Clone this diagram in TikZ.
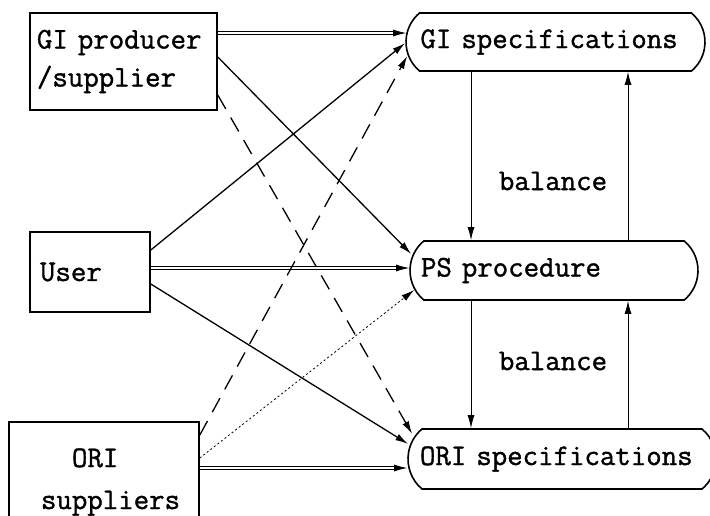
\documentclass[tikz,border=0pt]{standalone}
\usepackage{fontspec}
\setmonofont{Latin Modern Mono}[FakeBold=1.2]
\usetikzlibrary{shapes.misc, arrows.meta, calc}

\begin{document}
\begin{tikzpicture}[x=1pt, y=-1pt, >={Latex[length=13pt,width=7pt]},
            every node/.style={font=\ttfamily\fontsize{30}{38}\selectfont},
            source/.style={rectangle, draw, line width=1.6pt, inner sep=0pt},
            spec/.style={rounded rectangle, rounded rectangle arc length=100, draw, line width=1.6pt, align=left, inner xsep=0pt, inner ysep=0pt},
            link/.style={->, line width=1.3pt},
            linkdouble/.style={->, line width=0.9pt, double, double distance=2pt},
            linkdashed/.style={->, line width=1.3pt, dash pattern=on 16pt off 10pt},
            linkdotted/.style={->, line width=0.8pt, dash pattern=on 2pt off 2.5pt},
            vlink/.style={->, line width=1pt}
        ]
            \clip (0,0) rectangle (710,515);

            % GI producer
            \node[source, minimum width=187, minimum height=97, text width=173, align=left] (giprod) at (123.5,61.5) {GI producer\\/supplier};

            % User
            \node[source, minimum width=120, minimum height=80, text width=100, align=left] (user) at (90,272) {User};

            % ORI suppliers
            \node[source, minimum width=190, minimum height=120, text width=126, align=left] (orisup) at (104,482) {\hspace*{31pt}ORI\\[4pt]suppliers};

            % GI specifications
            \node[spec, minimum width=299, minimum height=58, text width=270] (gispec) at (555.5,42) {GI specifications};

            % PS procedure
            \node[spec, minimum width=288, minimum height=59, text width=266] (psproc) at (554,270.5) {PS procedure};

            % ORI specifications
            \node[spec, minimum width=308, minimum height=60, text width=284] (orispec) at (562,459) {ORI specifications};

            % Columnas de balance
            \coordinate (lcol) at (471,0);
            \coordinate (rcol) at (628,0);

            % GI producer a las especificaciones
            \draw[linkdouble] ($(giprod.east)+(0,-28.5)$) -- ($(gispec.west)+(1,-9)$);
            \draw[link] ($(giprod.east)+(0,-4.5)$) -- ($(psproc.west)+(2,-16.5)$);
            \draw[linkdashed] ($(giprod.east)+(0,33.5)$) -- ($(orispec.west)+(5,-25)$);

            % User
            \draw[link] ($(user.east)+(0,-22)$) -- ($(gispec.west)+(0,1)$);
            \draw[linkdouble] ($(user.east)+(0,-4)$) -- ($(psproc.west)+(0,-2.5)$);
            \draw[link] ($(user.east)+(0,12)$) -- ($(orispec.west)+(1,-15)$);

            % ORI suppliers
            \draw[linkdashed] ($(orisup.east)+(0,-47)$) -- ($(gispec.west)+(2,14)$);
            \draw[linkdotted] ($(orisup.east)+(0,-24)$) -- ($(psproc.west)+(5,19.5)$);
            \draw[linkdouble] ($(orisup.east)+(0,-14)$) -- ($(orispec.west)+(0,9)$);

            % Balance
            \draw[vlink] (gispec.south -| lcol) -- (psproc.north -| lcol);
            \draw[vlink] (psproc.north -| rcol) -- (gispec.south -| rcol);
            \draw[vlink] (psproc.south -| lcol) -- (orispec.north -| lcol);
            \draw[vlink] (orispec.north -| rcol) -- (psproc.south -| rcol);
            \node (bal1) at (553,181) {balance};
            \node (bal2) at (553,361) {balance};

        \end{tikzpicture}
\end{document}
